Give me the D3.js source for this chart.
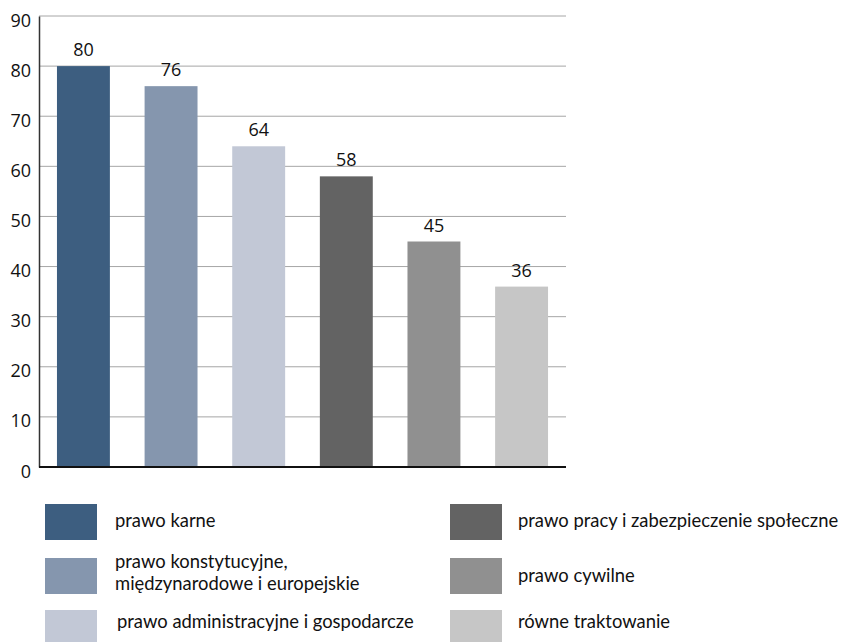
<!DOCTYPE html>
<html>
<head>
<meta charset="utf-8">
<script src="https://cdn.jsdelivr.net/npm/d3@7"></script>
<style>
  body { margin: 0; background: #fff; }
  svg { display: block; }
</style>
</head>
<body>
<div id="chart"></div>
<script>
// data
var categories = [
  "prawo karne",
  "prawo konstytucyjne, międzynarodowe i europejskie",
  "prawo administracyjne i gospodarcze",
  "prawo pracy i zabezpieczenie społeczne",
  "prawo cywilne",
  "równe traktowanie"
];
var values = [80, 76, 64, 58, 45, 36];
var colors = ["#3d5e80", "#8596ae", "#c2c8d6", "#636363", "#909090", "#c6c6c6"];
var yTicks = [0, 10, 20, 30, 40, 50, 60, 70, 80, 90];
// legend lines (wrapped as in the picture)
var legendLines = [
  ["prawo karne"],
  ["prawo konstytucyjne,", "międzynarodowe i europejskie"],
  ["prawo administracyjne i gospodarcze"],
  ["prawo pracy i zabezpieczenie społeczne"],
  ["prawo cywilne"],
  ["równe traktowanie"]
];

var w = 844, h = 642;
var plotLeft = 39, plotRight = 566, plotTop = 16, plotBottom = 467;
var numFont = "'Open Sans', 'Liberation Sans', sans-serif";

var svg = d3.select("#chart").append("svg")
  .attr("width", w)
  .attr("height", h);

var x = d3.scaleBand().domain(categories).range([plotLeft, plotRight]).paddingInner(0.396).paddingOuter(0.205);
var y = d3.scaleLinear().domain([0, 90]).range([plotBottom, plotTop]);

// gridlines
svg.append("g")
  .selectAll("line").data(yTicks.slice(1)).enter().append("line")
  .attr("x1", plotLeft).attr("x2", plotRight)
  .attr("y1", function(d) { return y(d); })
  .attr("y2", function(d) { return y(d); })
  .attr("stroke", "#a6a6a6")
  .attr("stroke-width", 1);

// y axis
var yAxis = svg.append("g")
  .attr("transform", "translate(" + plotLeft + ",0)")
  .call(d3.axisLeft(y).tickValues(yTicks).tickSize(0).tickPadding(8));
yAxis.select(".domain").attr("stroke", "#333").attr("stroke-width", 1.5);
yAxis.selectAll("text")
  .attr("font-family", numFont)
  .attr("font-size", 18)
  .attr("dy", "0.56em")
  .attr("fill", "#111");

// bars
svg.selectAll("rect.bar").data(values).enter().append("rect")
  .attr("class", "bar")
  .attr("x", function(d, i) { return x(categories[i]); })
  .attr("width", x.bandwidth())
  .attr("y", function(d) { return y(d); })
  .attr("height", function(d) { return plotBottom - y(d); })
  .attr("fill", function(d, i) { return colors[i]; });

// value labels
svg.selectAll("text.val").data(values).enter().append("text")
  .attr("class", "val")
  .attr("x", function(d, i) { return x(categories[i]) + x.bandwidth() / 2; })
  .attr("y", function(d) { return y(d) - 10; })
  .attr("text-anchor", "middle")
  .attr("font-family", numFont)
  .attr("font-size", 18)
  .attr("fill", "#111")
  .text(function(d) { return d; });

// baseline
svg.append("line")
  .attr("x1", plotLeft).attr("x2", plotRight)
  .attr("y1", plotBottom).attr("y2", plotBottom)
  .attr("stroke", "#111")
  .attr("stroke-width", 2);

// legend
var legX = [45, 450], legY = [504, 558, 610], swW = 52, swH = 36;
var txtX = [115, 518];
var leg = svg.append("g");
categories.forEach(function(c, i) {
  var col = Math.floor(i / 3), row = i % 3;
  leg.append("rect")
    .attr("x", legX[col]).attr("y", legY[row])
    .attr("width", swW).attr("height", swH)
    .attr("fill", colors[i]);
  var lines = legendLines[i];
  var bys = lines.length > 1 ? [568, 590] : [[527, 582, 628][row]];
  lines.forEach(function(t, k) {
    leg.append("text")
      .attr("x", txtX[col] + (row == 2 && col == 0 ? 2 : 0))
      .attr("y", bys[k])
      .attr("font-family", "Lato, sans-serif")
      .attr("font-size", 18.4)
      .attr("fill", "#111")
      .text(t);
  });
});
</script>
</body>
</html>
